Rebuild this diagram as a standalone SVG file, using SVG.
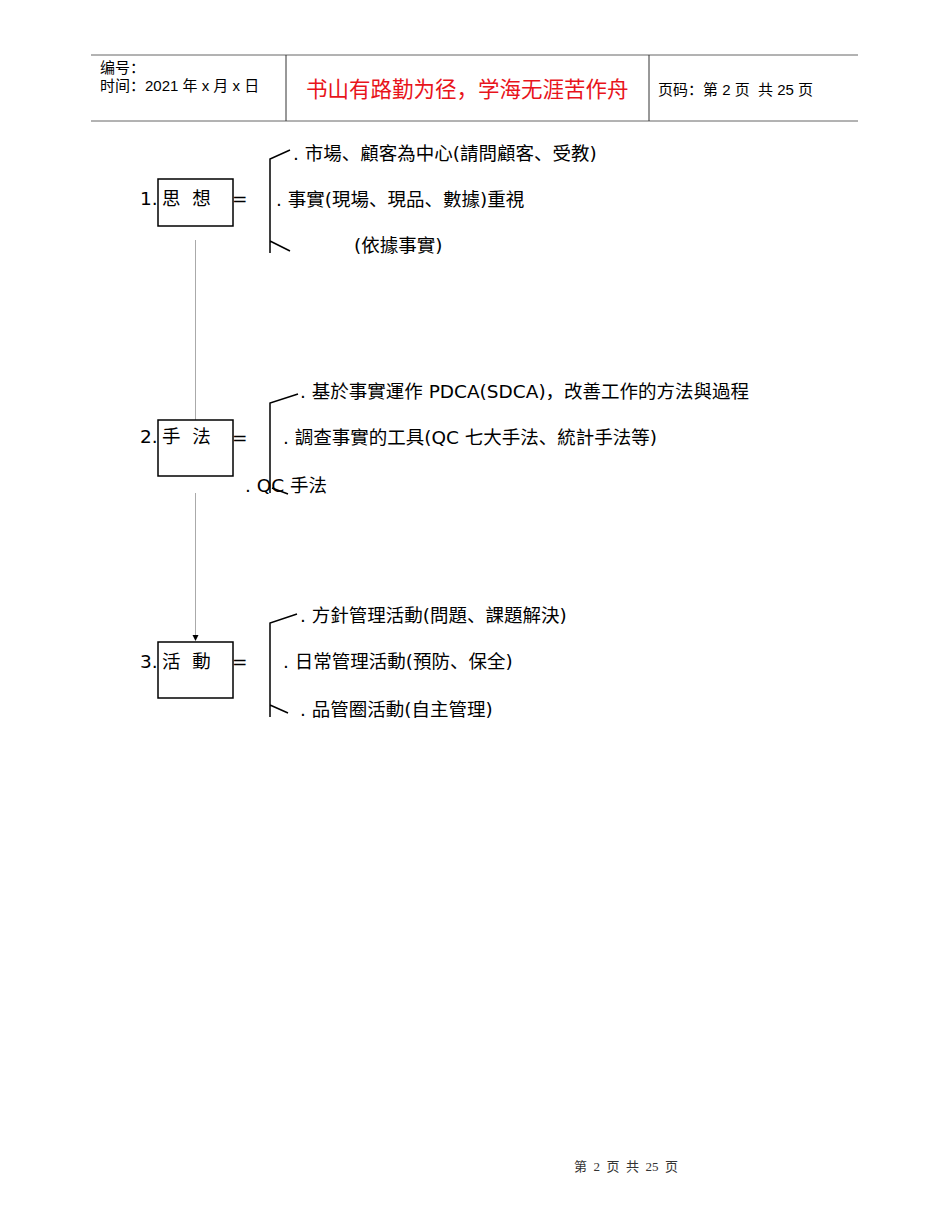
<svg xmlns="http://www.w3.org/2000/svg" width="950" height="1230" viewBox="0 0 950 1230">
<style>
text{white-space:pre}
.t{font-family:"DejaVu Sans","Noto Sans CJK SC",sans-serif;font-size:18.5px;fill:#000}
.h{font-family:"Liberation Sans","Noto Sans CJK SC",sans-serif;font-size:15px;fill:#000}
.box{fill:#fff;stroke:#000;stroke-width:1.5}
.br{fill:none;stroke:#000;stroke-width:1.5}
.cn{fill:none;stroke:#aaa;stroke-width:1}
</style>
<rect width="950" height="1230" fill="#fff"/>
<g id="header">
<line x1="91" y1="55" x2="858" y2="55" stroke="#666" stroke-width="1"/>
<line x1="91" y1="121" x2="858" y2="121" stroke="#666" stroke-width="1"/>
<line x1="286" y1="55" x2="286" y2="121" stroke="#333" stroke-width="1"/>
<line x1="649" y1="55" x2="649" y2="121" stroke="#333" stroke-width="1"/>
<text class="h" x="100" y="73">编号：</text>
<text class="h" x="100" y="91">时间：2021 年 x 月 x 日</text>
<text x="306" y="97" font-family="Noto Sans CJK SC,sans-serif" font-size="21.5" fill="#e8141b">书山有路勤为径，学海无涯苦作舟</text>
<text class="h" x="658" y="95">页码：第 2 页  共 25 页</text>
</g>
<g id="connectors">
<line class="cn" x1="195.5" y1="240" x2="195.5" y2="428"/>
<path d="M192,427 L197,430 L198,433 Z" fill="#000"/>
<line class="cn" x1="195.5" y1="493" x2="195.5" y2="636"/>
<path d="M192.5,635 L198.5,635 L195.5,641 Z" fill="#000"/>
</g>
<g id="node1">
<rect class="box" x="158" y="179" width="75" height="47"/>
<text class="t" x="140" y="205">1.</text>
<text class="t" x="162" y="205">思  想</text>
<text class="t" x="232" y="205">=</text>
</g>
<g id="bracket1">
<path class="br" d="M290,150 L270,159 L270,253 M270,241 L290,251"/>
<text class="t" x="293" y="160">. 市場、顧客為中心(請問顧客、受教)</text>
<text class="t" x="276" y="206">. 事實(現場、現品、數據)重視</text>
<text class="t" x="354" y="252">(依據事實)</text>
</g>
<g id="node2">
<rect class="box" x="158" y="420" width="75" height="56"/>
<text class="t" x="140" y="443">2.</text>
<text class="t" x="162" y="443">手  法</text>
<text class="t" x="232" y="444">=</text>
</g>
<g id="bracket2">
<path class="br" d="M298,394 L270,403 L270,493 M272,488 L288,494"/>
<text class="t" x="300" y="398">. 基於事實運作 PDCA(SDCA)，改善工作的方法與過程</text>
<text class="t" x="283" y="444">. 調查事實的工具(QC 七大手法、統計手法等)</text>
<text class="t" x="245" y="492">. QC 手法</text>
</g>
<g id="node3">
<rect class="box" x="158" y="642" width="75" height="56"/>
<text class="t" x="140" y="668">3.</text>
<text class="t" x="162" y="668">活  動</text>
<text class="t" x="232" y="668">=</text>
</g>
<g id="bracket3">
<path class="br" d="M297,614 L270,623 L270,717 M270,705 L288,713"/>
<text class="t" x="300" y="622">. 方針管理活動(問題、課題解決)</text>
<text class="t" x="283" y="668">. 日常管理活動(預防、保全)</text>
<text class="t" x="300" y="716">. 品管圈活動(自主管理)</text>
</g>
<g id="footer">
<text x="574" y="1171" font-family="Liberation Serif,Noto Sans CJK SC,serif" font-size="13" fill="#333">第  2  页  共  25  页</text>
</g>
</svg>
